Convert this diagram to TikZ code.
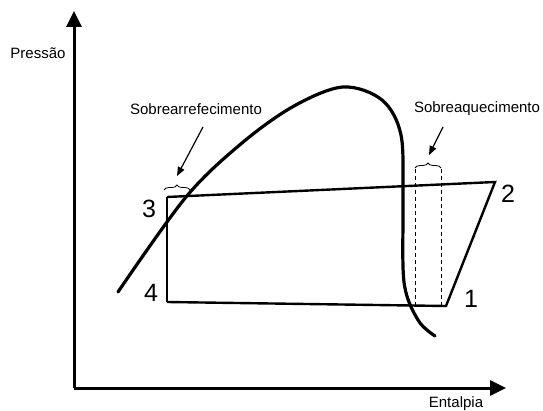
\documentclass[tikz,border=0pt]{standalone}
\usepackage{fontspec}
\setmainfont{Liberation Sans}
\usetikzlibrary{arrows.meta,decorations.pathreplacing}
\begin{document}
\begin{tikzpicture}[x=1pt,y=-1pt,
  axis/.style={line width=3pt,-{Triangle[length=16pt,width=15pt]}},
  cycleline/.style={line width=2.4pt,line join=miter},
  dome/.style={line width=3.2pt,line cap=round},
  lbl/.style={font=\fontsize{15}{17}\selectfont,inner sep=0pt},
  num/.style={font=\fontsize{25}{27}\selectfont,inner sep=0pt},
  pointer/.style={line width=1.2pt,-{Triangle[length=9pt,width=7pt]}},
  bracestyle/.style={line width=0.8pt,decorate,decoration={brace,amplitude=5pt}},
  dashline/.style={line width=0.8pt,dash pattern=on 4pt off 3pt}
]
\useasboundingbox (0,0) rectangle (543,411);
% axes
\coordinate (O) at (74,388);
\coordinate (ytop) at (74,11);
\coordinate (xend) at (506,388);
\draw[axis] (O) -- (ytop);
\draw[axis] (O) -- (xend);
\node[lbl] (py) at (38,53) {Pressão};
\node[lbl] (hx) at (456,404) {Entalpia};
% saturation dome
\draw[dome] plot[smooth,tension=0.55] coordinates {
  (118,292) (186,197) (242,143) (294,106) (343,87)
  (382,100) (401,135) (403,200) (404,282) (418,320) (435,336)};
% cycle points
\coordinate (p3) at (167,197);
\coordinate (p2) at (495,182);
\coordinate (p1) at (446,306);
\coordinate (p4) at (167,302);
\draw[cycleline] (p3) -- (p2) -- (p1) -- (p4);
\draw[line width=1.8pt] (p4) -- (p3);
\node[num] (n3) at (149,209) {3};
\node[num] (n2) at (508,194) {2};
\node[num] (n1) at (471,299) {1};
\node[num] (n4) at (151,293) {4};
% sobrearrefecimento
\draw[bracestyle] (164,190) -- (190,190);
\coordinate (bl) at (177,176);
\node[lbl] (sa) at (196,109) {Sobrearrefecimento};
\coordinate (sastart) at (203,127);
\draw[pointer] (sastart) -- (bl);
% sobreaquecimento
\draw[bracestyle] (415,168) -- (441,168);
\coordinate (br) at (429,155);
\node[lbl] (sq) at (477,109) {Sobreaquecimento};
\coordinate (sqstart) at (443,127);
\draw[pointer] (sqstart) -- (br);
\coordinate (d1t) at (415,169);
\coordinate (d1b) at (415,305);
\coordinate (d2t) at (441,169);
\coordinate (d2b) at (441,305);
\draw[dashline] (d1t) -- (d1b);
\draw[dashline] (d2t) -- (d2b);
\end{tikzpicture}
\end{document}
